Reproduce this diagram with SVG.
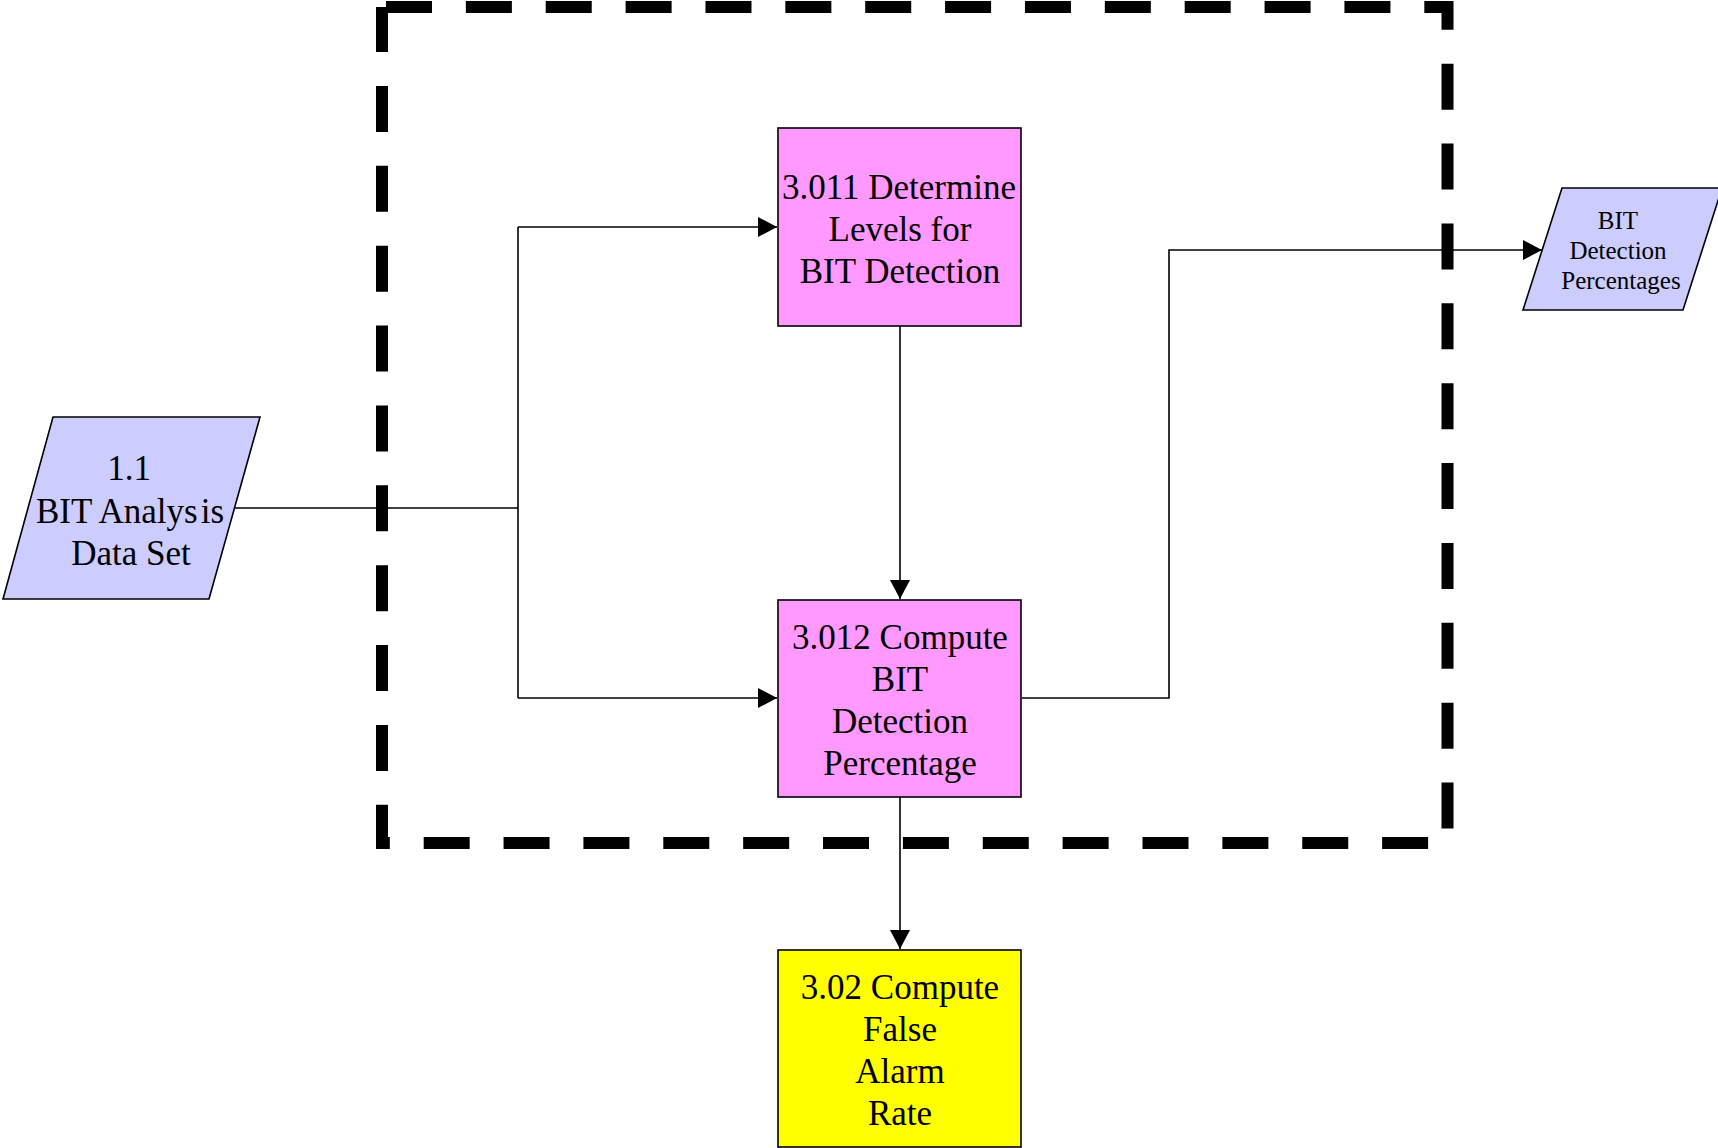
<svg xmlns="http://www.w3.org/2000/svg" width="1718" height="1148" viewBox="0 0 1718 1148">
  <style>
    .node { stroke: #000; stroke-width: 1.6; }
    .data { fill: #CCCCFF; }
    .proc { fill: #FF99FF; }
    .next { fill: #FFFF00; }
    .lbl { font-family: "Liberation Serif", "Times New Roman", serif; font-size: 35px; fill: #000; text-anchor: middle; }
    .lbl-sm { font-family: "Liberation Serif", "Times New Roman", serif; font-size: 25px; fill: #000; text-anchor: middle; }
    .wire { fill: none; stroke: #000; stroke-width: 1.6; }
    .boundary { fill: none; stroke: #000; stroke-width: 12; stroke-dasharray: 46 33.87; stroke-dashoffset: -4; stroke-linejoin: miter; }
  </style>
  <defs>
    <marker id="arrow" markerUnits="userSpaceOnUse" markerWidth="20" markerHeight="20" refX="19" refY="10" orient="auto">
      <path d="M0,0 L19,10 L0,20 Z" fill="#000"/>
    </marker>
  </defs>

  <rect width="1718" height="1148" fill="#fff"/>

  <!-- connectors -->
  <g id="connectors">
    <polyline class="wire" points="235,508 518,508"/>
    <polyline class="wire" points="518,227 518,698"/>
    <polyline class="wire" points="518,227 777,227" marker-end="url(#arrow)"/>
    <polyline class="wire" points="518,698 777,698" marker-end="url(#arrow)"/>
    <polyline class="wire" points="900,326 900,599" marker-end="url(#arrow)"/>
    <polyline class="wire" points="1022,698 1169,698 1169,250 1542,250" marker-end="url(#arrow)"/>
    <polyline class="wire" points="900,797 900,949" marker-end="url(#arrow)"/>
  </g>

  <!-- subsystem boundary -->
  <g id="boundary">
    <path class="boundary" d="M382,7 H1447.5 V843 H382 Z"/>
  </g>

  <g id="n-bit-analysis">
    <polygon class="node data" points="53,417 260,417 209,599 3,599"/>
    <text class="lbl" x="129" y="480">1.1</text>
    <text class="lbl" x="130" y="523">BIT Analys<tspan dx="3">is</tspan></text>
    <text class="lbl" x="131" y="565">Data Set</text>
  </g>

  <g id="n-3011">
    <rect class="node proc" x="778" y="128" width="243" height="198"/>
    <text class="lbl" x="899" y="199">3.011 Determine</text>
    <text class="lbl" x="900" y="241">Levels for</text>
    <text class="lbl" x="900" y="283">BIT Detection</text>
  </g>

  <g id="n-3012">
    <rect class="node proc" x="778" y="600" width="243" height="197"/>
    <text class="lbl" x="900" y="649">3.012 Compute</text>
    <text class="lbl" x="900" y="691">BIT</text>
    <text class="lbl" x="900" y="733">Detection</text>
    <text class="lbl" x="900" y="775">Percentage</text>
  </g>

  <g id="n-302">
    <rect class="node next" x="778" y="950" width="243" height="197"/>
    <text class="lbl" x="900" y="999">3.02 Compute</text>
    <text class="lbl" x="900" y="1041">False</text>
    <text class="lbl" x="900" y="1083">Alarm</text>
    <text class="lbl" x="900" y="1125">Rate</text>
  </g>

  <g id="n-bit-percentages">
    <polygon class="node data" points="1562,188 1722,188 1683,310 1523,310"/>
    <text class="lbl-sm" x="1618" y="229">BIT</text>
    <text class="lbl-sm" x="1618" y="259">Detection</text>
    <text class="lbl-sm" x="1621" y="289">Percentages</text>
  </g>
</svg>
